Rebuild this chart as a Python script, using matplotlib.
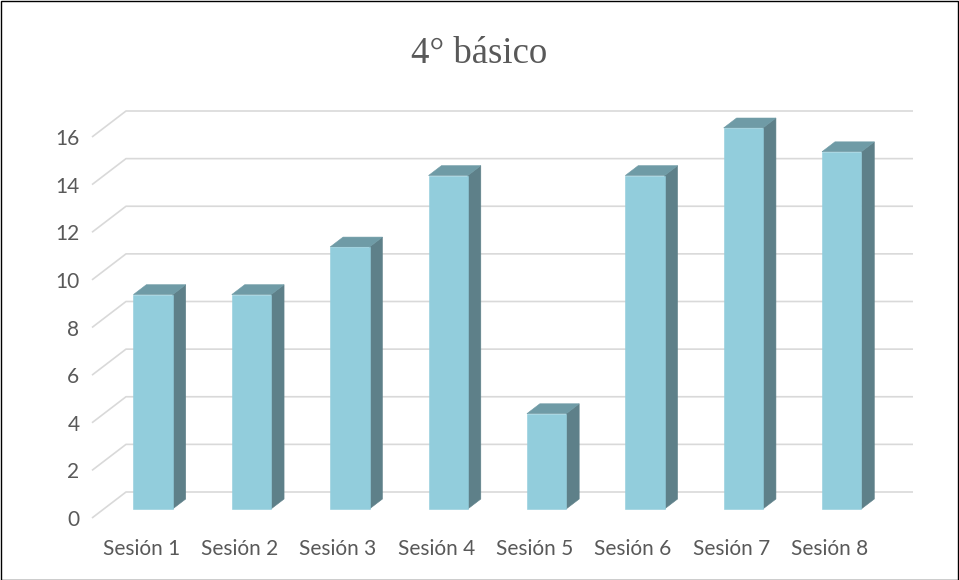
import matplotlib
matplotlib.use("Agg")
import matplotlib.pyplot as plt
from matplotlib.patches import Polygon, Rectangle

# Chart data
categories = ["Sesión 1", "Sesión 2", "Sesión 3", "Sesión 4",
              "Sesión 5", "Sesión 6", "Sesión 7", "Sesión 8"]
values = [9, 9, 11, 14, 4, 14, 16, 15]
y_ticks = [0, 2, 4, 6, 8, 10, 12, 14, 16]
title = "4° básico"

# Colours
FRONT = "#92CDDC"
SIDE = "#5E8089"
TOP = "#6F9BA6"
GRID = "#D9D9D9"
TEXT = "#595959"

W, H = 959, 580
fig = plt.figure(figsize=(W / 100, H / 100), dpi=100)

# Front plane of the floor/wall in figure fractions
left_px, right_px = 92, 879
base_px, top_px = 518, 137
ax = fig.add_axes([left_px / W, 1 - base_px / H,
                   (right_px - left_px) / W, (base_px - top_px) / H])
n = len(categories)
ax.set_xlim(0, n)
ax.set_ylim(0, 16)

# Oblique depth offset, in data units, for depth d in [0, 1]
DX = 34 / ((right_px - left_px) / n)
DY = 26 / ((base_px - top_px) / 16)


def proj(x, v, d):
    return (x + d * DX, v + d * DY)


# Back wall gridlines and slanted side lines
for t in y_ticks:
    xs, ys = zip(proj(0, t, 0), proj(0, t, 1), proj(n, t, 1))
    ax.plot(xs, ys, color=GRID, lw=1.2, clip_on=False, zorder=1,
            solid_capstyle="butt")

# Bars with front, side and top faces
bw = 0.40
d0, d1 = 0.35, 0.73
for i, v in enumerate(values):
    x0 = i + 0.5 - bw / 2
    x1 = i + 0.5 + bw / 2
    front = [proj(x0, 0, d0), proj(x1, 0, d0), proj(x1, v, d0), proj(x0, v, d0)]
    side = [proj(x1, 0, d0), proj(x1, 0, d1), proj(x1, v, d1), proj(x1, v, d0)]
    top = [proj(x0, v, d0), proj(x1, v, d0), proj(x1, v, d1), proj(x0, v, d1)]
    for pts, c in ((side, SIDE), (top, TOP), (front, FRONT)):
        ax.add_patch(Polygon(pts, closed=True, facecolor=c, edgecolor=c,
                             lw=0.4, clip_on=False, zorder=3))

# Axes styling
for s in ax.spines.values():
    s.set_visible(False)
ax.set_yticks(y_ticks)
ax.set_yticklabels([str(t) for t in y_ticks])
ax.set_xticks([i + 0.5 for i in range(n)])
ax.set_xticklabels(categories)
ax.tick_params(axis="both", length=0, colors=TEXT, labelsize=15)
ax.tick_params(axis="y", pad=9)
ax.tick_params(axis="x", pad=15)
for lab in ax.get_xticklabels() + ax.get_yticklabels():
    lab.set_fontfamily("Lato")
ax.patch.set_visible(False)

fig.text(0.5, 1 - 54 / H, title, ha="center", va="center",
         fontsize=26.5, color=TEXT, fontfamily="Liberation Serif")

# Chart border
fig.patches.append(Rectangle((0.5 / W, 0.5 / H), 1 - 1.5 / W, 1 - 1.5 / H,
                             transform=fig.transFigure, fill=False,
                             edgecolor="black", lw=1.0))

fig.savefig("out.png", dpi=100)
